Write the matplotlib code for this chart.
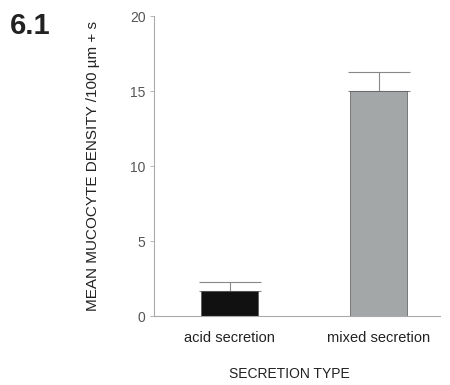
import matplotlib
matplotlib.use("Agg")
import matplotlib.pyplot as plt

categories = ["acid secretion", "mixed secretion"]
means = [1.65, 15.0]
errors = [0.6, 1.3]
bar_colors = ["#111111", "#a3a7a7"]
yticks = [0, 5, 10, 15, 20]

plt.rcParams['font.family'] = ['Liberation Sans', 'DejaVu Sans']

fig = plt.figure(figsize=(4.5, 3.85), dpi=100)
ax = fig.add_axes([0.342, 0.179, 0.636, 0.779])

x = [0, 1]
ax.bar(x, means, width=0.383, color=bar_colors, edgecolor="#555555", linewidth=0.5, zorder=2)
ax.errorbar(x, means, yerr=[[0, 0], errors], fmt="none", ecolor="#888888",
            elinewidth=0.8, capsize=22, capthick=0.8, zorder=1)

ax.set_xlim(-0.507, 1.41)
ax.set_ylim(0, 20)
ax.set_yticks(yticks)
ax.set_yticklabels([str(v) for v in yticks], fontsize=10, color="#555555")
ax.set_xticks(x)
ax.set_xticklabels(categories, fontsize=10.5, color="#222222")
ax.tick_params(axis="y", length=3, width=0.6, color="#aaaaaa", pad=3)
ax.tick_params(axis="x", length=0, pad=11)

for s in ["top", "right"]:
    ax.spines[s].set_visible(False)
for s in ["left", "bottom"]:
    ax.spines[s].set_color("#aaaaaa")
    ax.spines[s].set_linewidth(0.8)

ax.set_ylabel("MEAN MUCOCYTE DENSITY /100 µm + s", fontsize=11, color="#222222")
ax.yaxis.set_label_coords(-0.19, 0.5)
ax.set_xlabel("SECRETION TYPE", fontsize=10, color="#222222")
ax.xaxis.set_label_coords(0.472, -0.17)

fig.text(0.022, 0.912, "6.1", fontsize=21, fontweight="bold", color="#222222")

fig.savefig("out.png", dpi=100)
